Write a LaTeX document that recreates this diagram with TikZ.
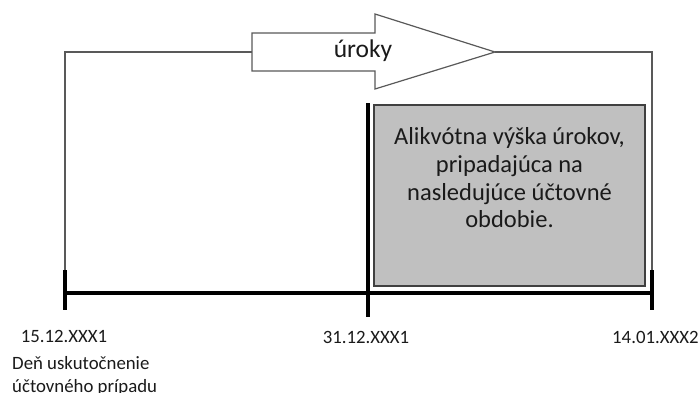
\documentclass[tikz,border=0pt]{standalone}
\usepackage{fontspec}
\usetikzlibrary{calc}
\setmainfont{Carlito}
\definecolor{thinline}{HTML}{595959}
\definecolor{boxgray}{HTML}{C0C0C0}
\definecolor{txt}{HTML}{1A1A1A}
\begin{document}
\begin{tikzpicture}[x=1pt,y=-1pt,
  thin line/.style={draw=thinline,line width=1.3pt},
  thick line/.style={draw=black,line width=4pt},
  datelabel/.style={font=\fontsize{18.8}{22}\selectfont,text=txt,inner sep=0pt},
  boxtext/.style={font=\fontsize{24.5}{27.7}\selectfont,text=txt,align=center,inner sep=0pt}]
\useasboundingbox (0,0) rectangle (700,392);
% key coordinates
\coordinate (L) at (65,293);
\coordinate (M) at (368,293);
\coordinate (R) at (652,293);
\coordinate (Ltop) at (65,52);
\coordinate (Rtop) at (652,52);
\coordinate (tail) at (252,52);
\coordinate (tip) at (495,52);
% bracket lines
\draw[thin line] ($(L)+(0,-23)$) -- (Ltop) -- (tail);
\draw[thin line] (tip) -- (Rtop) -- ($(R)+(0,-23)$);
% arrow
\draw[draw=thinline,line width=1.2pt,fill=white,line join=miter]
  (252,33) -- (375,33) -- (375,14) -- (tip) -- (375,89) -- (375,71) -- (252,71) -- cycle;
\node[font=\fontsize{25.5}{28}\selectfont,text=txt,inner sep=0pt] (uroky) at (363,51) {úroky};
% gray box
\node[draw=black!75,line width=1.2pt,fill=boxgray,minimum width=271pt,minimum height=181pt,inner sep=0pt] (box) at (509.5,195.5) {};
\node[boxtext] (boxt) at (509.5,178) {Alikvótna výška úrokov,\\pripadajúca na\\nasledujúce účtovné\\obdobie.};
% timeline
\draw[thick line] (L) -- (R);
\draw[thick line] (65,270) -- (65,310);
\draw[thick line] (652,270) -- (652,310);
\draw[thick line] (368,103) -- (368,317);
% labels
\node[datelabel] (d1) at (64,336) {15.12.XXX1};
\node[datelabel] (d2) at (366,337) {31.12.XXX1};
\node[datelabel,anchor=west] (d3) at (612,337) {14.01.XXX2};
\node[datelabel,anchor=north west,align=left,font=\fontsize{18.8}{23}\selectfont] (d4) at (12,356) {Deň uskutočnenie\\účtovného prípadu};
\end{tikzpicture}
\end{document}
